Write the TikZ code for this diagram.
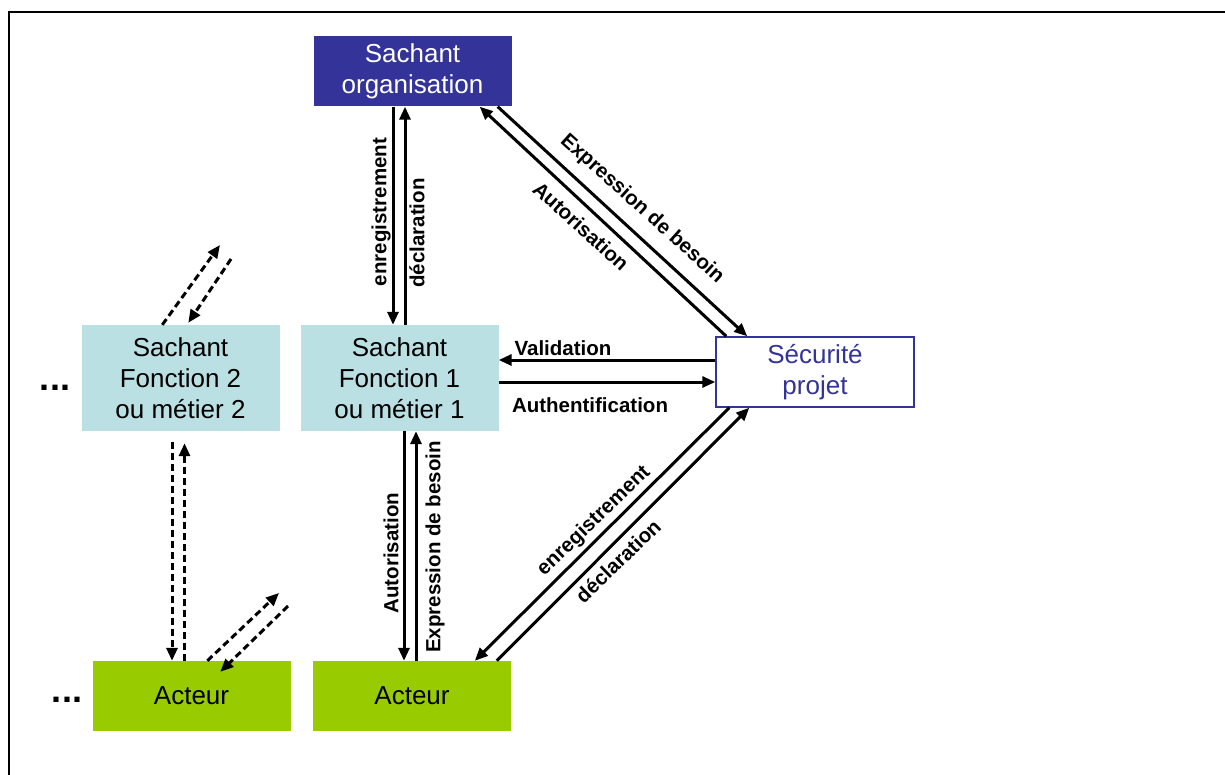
\documentclass[tikz,border=0pt]{standalone}
\usepackage{fontspec}
\setmainfont{Liberation Sans}
\usetikzlibrary{arrows.meta}
\definecolor{orgblue}{RGB}{51,51,153}
\definecolor{fctblue}{RGB}{187,224,227}
\definecolor{actgreen}{RGB}{153,204,0}

\begin{document}
\begin{tikzpicture}[x=1pt,y=-1pt,
  box/.style={minimum width=198pt,minimum height=70pt,inner sep=0pt,align=center,font=\fontsize{26}{31}\selectfont},
  lbl/.style={font=\bfseries\fontsize{20.5}{22}\selectfont,inner sep=0pt},
  arr/.style={line width=3pt,-{Triangle[length=13pt,width=11pt]}},
  darr/.style={arr,dash pattern=on 7pt off 4pt}]
\useasboundingbox (0,0) rectangle (1225,775);
\draw[line width=2.5pt] (9,775) -- (9,12) -- (1225,12);
% boxes
\node[box,fill=orgblue,text=white] (org) at (412.5,71.5) {Sachant\\organisation};
\node[box,fill=fctblue,minimum height=106pt] (f1) at (399.5,378) {Sachant\\Fonction 1\\ou métier 1};
\node[box,fill=fctblue,minimum height=106pt] (f2) at (180.5,378) {Sachant\\Fonction 2\\ou métier 2};
\node[box,draw=orgblue,line width=1.5pt,fill=white,text=orgblue] (sec) at (815,372) {Sécurité\\projet};
\node[box,fill=actgreen] (a2) at (191.5,696) {Acteur};
\node[box,fill=actgreen] (a1) at (412,696) {Acteur};
\node[font=\bfseries\fontsize{36}{36}\selectfont,inner sep=0pt] (dots1) at (55,388) {...};
\node[font=\bfseries\fontsize{36}{36}\selectfont,inner sep=0pt] (dots2) at (67,700) {...};
% free ends
\coordinate (f2out) at (220,245);
\coordinate (f2back) at (231,259);
\coordinate (a2out) at (279,593);
\coordinate (a2back) at (288,606);
% organisation <-> fonction 1
\draw[arr] ([xshift=-19.5pt]org.south) -- ([xshift=-6.5pt]f1.north);
\draw[arr] ([xshift=5.5pt]f1.north) -- ([xshift=-7.5pt]org.south);
\node[lbl,rotate=90] (l1) at (381,212) {enregistrement};
\node[lbl,rotate=90] (l2) at (417,233) {déclaration};
% organisation <-> securite
\draw[arr] ([xshift=-14pt]org.south east) -- ([xshift=32pt]sec.north west);
\draw[arr] ([xshift=11pt]sec.north west) -- ([xshift=-32pt]org.south east);
\node[lbl,rotate=-42] (l3) at (642,209) {Expression de besoin};
\node[lbl,rotate=-42] (l4) at (581,226) {Autorisation};
% fonction 1 <-> securite
\draw[arr] ([yshift=12pt]sec.west) -- ([yshift=18pt]f1.east);
\draw[arr] ([yshift=-4pt]f1.east) -- ([yshift=-10pt]sec.west);
\node[lbl] (l5) at (563,348) {Validation};
\node[lbl] (l6) at (590,405) {Authentification};
% fonction 1 <-> acteur
\draw[arr] ([xshift=4.5pt]f1.south) -- ([xshift=-8pt]a1.north);
\draw[arr] ([xshift=4pt]a1.north) -- ([xshift=16.5pt]f1.south);
\node[lbl,rotate=90] (l7) at (391,553) {Autorisation};
\node[lbl,rotate=90] (l8) at (435,547) {Expression de besoin};
% securite <-> acteur
\draw[arr] ([xshift=14pt]sec.south west) -- ([xshift=162pt]a1.north west);
\draw[arr] ([xshift=184pt]a1.north west) -- ([xshift=34pt]sec.south west);
\node[lbl,rotate=44] (l9) at (594,521) {enregistrement};
\node[lbl,rotate=44] (l10) at (618,561) {déclaration};
% fonction 2 (dashed)
\draw[darr] ([xshift=81pt]f2.north west) -- (f2out);
\draw[darr] (f2back) -- ([xshift=107pt,yshift=2pt]f2.north west);
\draw[darr] ([xshift=-8.5pt,yshift=-11pt]f2.south) -- ([xshift=-19.5pt]a2.north);
\draw[darr] ([xshift=-7pt]a2.north) -- ([xshift=4pt,yshift=-12pt]f2.south);
\draw[darr] ([xshift=115pt]a2.north west) -- (a2out);
\draw[darr] (a2back) -- ([xshift=128pt,yshift=-11pt]a2.north west);
\end{tikzpicture}
\end{document}
